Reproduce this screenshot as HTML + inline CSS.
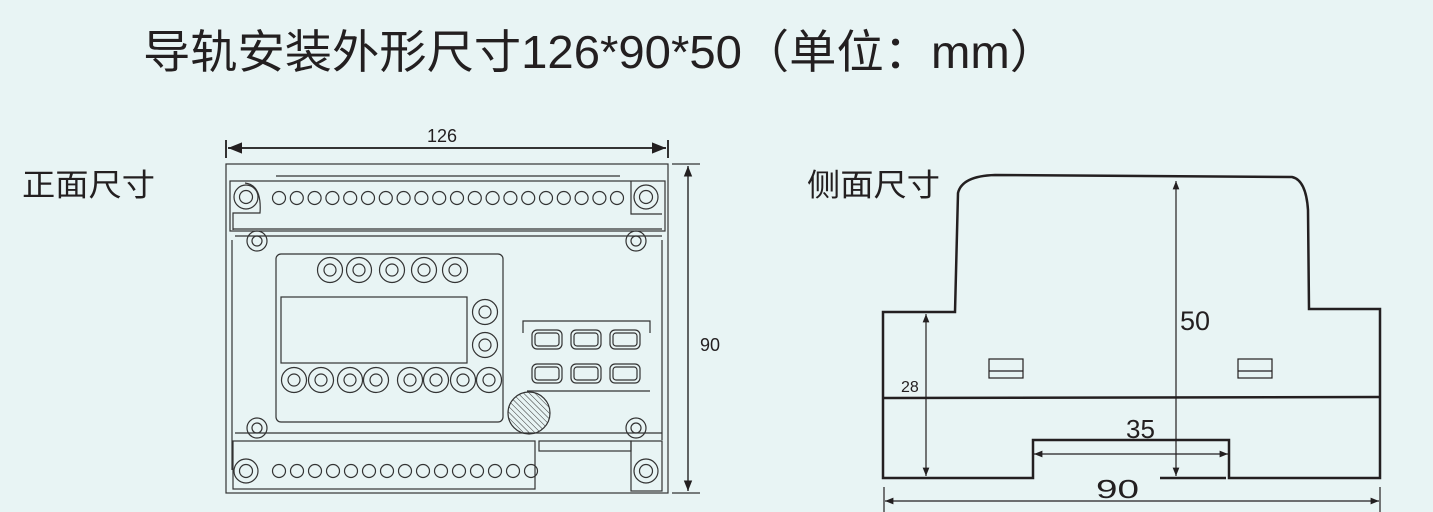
<!DOCTYPE html>
<html><head><meta charset="utf-8"><style>
html,body{margin:0;padding:0;background:#e8f4f4;}
svg{display:block}
text{font-family:"Liberation Sans","Noto Sans CJK SC",sans-serif;fill:#231f20}
</style></head><body>
<svg width="1433" height="512" viewBox="0 0 1433 512" xmlns="http://www.w3.org/2000/svg">
<defs>
<marker id="a" viewBox="0 0 10 10" refX="10" refY="5" markerWidth="7" markerHeight="7" orient="auto-start-reverse"><path d="M0,1 L10,5 L0,9z" fill="#231f20"/></marker>
<pattern id="h" width="4" height="4" patternUnits="userSpaceOnUse" patternTransform="rotate(-45)"><line x1="0" y1="0" x2="0" y2="4" stroke="#333" stroke-width="1"/></pattern>
</defs>
<rect width="1433" height="512" fill="#e8f4f4"/>
<text x="143" y="68" font-size="46" textLength="914" lengthAdjust="spacingAndGlyphs">导轨安装外形尺寸126*90*50（单位：mm）</text>
<text x="22" y="196" font-size="31" textLength="133" lengthAdjust="spacingAndGlyphs">正面尺寸</text>
<text x="807" y="196" font-size="31" textLength="133" lengthAdjust="spacingAndGlyphs">侧面尺寸</text>

<!-- FRONT -->
<g fill="none" stroke="#333" stroke-width="1.2">
<line x1="226" y1="140" x2="226" y2="158" stroke-width="2"/>
<line x1="668" y1="140" x2="668" y2="158" stroke-width="2"/>
<line x1="228" y1="148" x2="666" y2="148" stroke-width="2" marker-start="url(#a)" marker-end="url(#a)"/>
<line x1="672" y1="164" x2="700" y2="164"/>
<line x1="672" y1="493" x2="700" y2="493"/>
<line x1="688" y1="166" x2="688" y2="491" stroke-width="1.5" marker-start="url(#a)" marker-end="url(#a)"/>
<rect x="226" y="164" width="442" height="329"/>
<rect x="230" y="181" width="435" height="50"/>
<path d="M233 230 V213 L260 213 Q262 185 245 183 M631 181 V214 H662"/>
<line x1="276" y1="176" x2="620" y2="176"/>
<line x1="233" y1="229" x2="662" y2="229"/>
<line x1="235" y1="236" x2="662" y2="236"/>
<line x1="232" y1="240" x2="232" y2="470"/>
<line x1="662" y1="240" x2="662" y2="440"/>
<line x1="235" y1="433" x2="662" y2="433"/>
<rect x="233" y="441" width="302" height="48"/>
<rect x="539" y="441" width="92" height="10"/>
<rect x="631" y="441" width="31" height="50"/>
<circle cx="246" cy="197" r="12"/><circle cx="246" cy="197" r="6.5"/>
<circle cx="646" cy="197" r="12"/><circle cx="646" cy="197" r="6.5"/>
<circle cx="246" cy="471" r="12"/><circle cx="246" cy="471" r="6.5"/>
<circle cx="646" cy="471" r="12"/><circle cx="646" cy="471" r="6.5"/>
<circle cx="257" cy="241" r="10"/><circle cx="257" cy="241" r="5"/>
<circle cx="636" cy="241" r="10"/><circle cx="636" cy="241" r="5"/>
<circle cx="257" cy="428" r="10"/><circle cx="257" cy="428" r="5"/>
<circle cx="636" cy="428" r="10"/><circle cx="636" cy="428" r="5"/>
<g id="t">
<circle cx="279" cy="198" r="6.5"/><circle cx="296.8" cy="198" r="6.5"/><circle cx="314.6" cy="198" r="6.5"/><circle cx="332.4" cy="198" r="6.5"/><circle cx="350.2" cy="198" r="6.5"/><circle cx="368" cy="198" r="6.5"/><circle cx="385.8" cy="198" r="6.5"/><circle cx="403.6" cy="198" r="6.5"/><circle cx="421.4" cy="198" r="6.5"/><circle cx="439.2" cy="198" r="6.5"/><circle cx="457" cy="198" r="6.5"/><circle cx="474.8" cy="198" r="6.5"/><circle cx="492.6" cy="198" r="6.5"/><circle cx="510.4" cy="198" r="6.5"/><circle cx="528.2" cy="198" r="6.5"/><circle cx="546" cy="198" r="6.5"/><circle cx="563.8" cy="198" r="6.5"/><circle cx="581.6" cy="198" r="6.5"/><circle cx="599.4" cy="198" r="6.5"/><circle cx="617" cy="198" r="6.5"/>
</g>
<g transform="translate(0,273)">
<circle cx="279" cy="198" r="6.5"/><circle cx="297" cy="198" r="6.5"/><circle cx="315" cy="198" r="6.5"/><circle cx="333" cy="198" r="6.5"/><circle cx="351" cy="198" r="6.5"/><circle cx="369" cy="198" r="6.5"/><circle cx="387" cy="198" r="6.5"/><circle cx="405" cy="198" r="6.5"/><circle cx="423" cy="198" r="6.5"/><circle cx="441" cy="198" r="6.5"/><circle cx="459" cy="198" r="6.5"/><circle cx="477" cy="198" r="6.5"/><circle cx="495" cy="198" r="6.5"/><circle cx="513" cy="198" r="6.5"/><circle cx="531" cy="198" r="6.5"/>
</g>
<rect x="276" y="254" width="227" height="168" rx="5"/>
<rect x="281" y="297" width="186" height="66"/>
<g>
<circle cx="330" cy="270" r="12.5"/><circle cx="330" cy="270" r="6"/>
<circle cx="359" cy="270" r="12.5"/><circle cx="359" cy="270" r="6"/>
<circle cx="392" cy="270" r="12.5"/><circle cx="392" cy="270" r="6"/>
<circle cx="424" cy="270" r="12.5"/><circle cx="424" cy="270" r="6"/>
<circle cx="455" cy="270" r="12.5"/><circle cx="455" cy="270" r="6"/>
<circle cx="485" cy="312" r="12.5"/><circle cx="485" cy="312" r="6"/>
<circle cx="485" cy="345" r="12.5"/><circle cx="485" cy="345" r="6"/>
<circle cx="294" cy="380" r="12.5"/><circle cx="294" cy="380" r="6"/>
<circle cx="321" cy="380" r="12.5"/><circle cx="321" cy="380" r="6"/>
<circle cx="350" cy="380" r="12.5"/><circle cx="350" cy="380" r="6"/>
<circle cx="376" cy="380" r="12.5"/><circle cx="376" cy="380" r="6"/>
<circle cx="410" cy="380" r="12.5"/><circle cx="410" cy="380" r="6"/>
<circle cx="436" cy="380" r="12.5"/><circle cx="436" cy="380" r="6"/>
<circle cx="463" cy="380" r="12.5"/><circle cx="463" cy="380" r="6"/>
<circle cx="489" cy="380" r="12.5"/><circle cx="489" cy="380" r="6"/>
</g>
<path d="M523 333 V321 H650 V333"/>
<line x1="527" y1="391" x2="650" y2="391"/>
<g>
<rect x="532" y="330" width="30" height="19" rx="5"/><rect x="535" y="333" width="24" height="13" rx="3"/>
<rect x="571" y="330" width="30" height="19" rx="5"/><rect x="574" y="333" width="24" height="13" rx="3"/>
<rect x="610" y="330" width="30" height="19" rx="5"/><rect x="613" y="333" width="24" height="13" rx="3"/>
<rect x="532" y="364" width="30" height="19" rx="5"/><rect x="535" y="367" width="24" height="13" rx="3"/>
<rect x="571" y="364" width="30" height="19" rx="5"/><rect x="574" y="367" width="24" height="13" rx="3"/>
<rect x="610" y="364" width="30" height="19" rx="5"/><rect x="613" y="367" width="24" height="13" rx="3"/>
</g>
<circle cx="529" cy="413" r="21" fill="url(#h)"/>
</g>
<text x="442" y="142" font-size="18" text-anchor="middle">126</text>
<text x="700" y="351" font-size="18">90</text>

<!-- SIDE -->
<g fill="none" stroke="#231f20">
<path d="M883 478 V312 H955 L958 193 Q962 176 995 175 L1292 177 Q1306 180 1308 210 L1309 309 H1380 V478 H1229 V440 H1033 V478 Z" stroke-width="2.5"/>
<line x1="883" y1="398" x2="1380" y2="397" stroke-width="2.5"/>
<line x1="1160" y1="478" x2="1226" y2="478" stroke-width="2.5"/>
<g stroke-width="1.2">
<rect x="989" y="359" width="34" height="19"/><line x1="989" y1="371" x2="1023" y2="371"/>
<rect x="1238" y="359" width="34" height="19"/><line x1="1238" y1="371" x2="1272" y2="371"/>
<line x1="926" y1="314" x2="926" y2="476" marker-start="url(#a)" marker-end="url(#a)"/>
<line x1="1176" y1="181" x2="1176" y2="476" marker-start="url(#a)" marker-end="url(#a)"/>
<line x1="1034" y1="454" x2="1228" y2="454" marker-start="url(#a)" marker-end="url(#a)"/>
<line x1="884" y1="487" x2="884" y2="512"/>
<line x1="1380" y1="487" x2="1380" y2="512"/>
<line x1="885" y1="501" x2="1379" y2="501" marker-start="url(#a)" marker-end="url(#a)"/>
</g>
</g>
<text x="1180" y="330" font-size="27">50</text>
<text x="901" y="392" font-size="16">28</text>
<text x="1126" y="438" font-size="26">35</text>
<text x="1096" y="498" font-size="26" textLength="43" lengthAdjust="spacingAndGlyphs">90</text>
</svg>
</body></html>
